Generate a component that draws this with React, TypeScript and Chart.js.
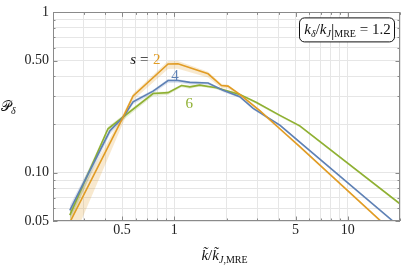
import { useEffect, useRef } from 'react';
import { Chart, registerables } from 'chart.js';
Chart.register(...registerables);

// ---- axes ----
const xTickValues = [0.2, 0.3, 0.4, 0.5, 0.6, 0.7, 0.8, 0.9, 1, 2, 3, 4, 5, 6, 7, 8, 9, 10, 20];
const xLabelValues = [0.5, 1, 5, 10];
const xLabelTexts = ['0.5', '1', '5', '10'];
const yTickValues = [0.05, 0.06, 0.07, 0.08, 0.09, 0.1, 0.2, 0.3, 0.4, 0.5, 0.6, 0.7, 0.8, 0.9, 1];
const yLabelValues = [0.05, 0.1, 0.5, 1];
const yLabelTexts = ['0.05', '0.10', '0.50', '1'];

// ---- series s = 2 (orange) ----
const s2X = [0.25, 0.507, 0.579, 0.921, 1.05, 1.566, 1.87, 2.04, 2.385, 3.11, 4.06, 5.29, 15.8];
const s2Y = [0.049, 0.222, 0.301, 0.477, 0.478, 0.414, 0.35, 0.347, 0.308, 0.244, 0.188, 0.1456, 0.049];
const s2Err = [0.3, 0.08, 0.06, 0.07, 0.07, 0.05, 0.04, 0.035, 0.03, 0.025, 0.02, 0.02, 0.02];

// ---- series s = 4 (blue) ----
const s4X = [0.25, 0.425, 0.507, 0.579, 0.755, 0.921, 1.05, 1.23, 1.566, 1.91, 2.385, 2.85, 4.06, 5.29, 18.2];
const s4Y = [0.0583, 0.182, 0.222, 0.277, 0.323, 0.376, 0.376, 0.366, 0.363, 0.327, 0.298, 0.252, 0.198, 0.155, 0.05];
const s4Err = [0.12, 0.05, 0.04, 0.035, 0.035, 0.035, 0.03, 0.03, 0.025, 0.025, 0.02, 0.02, 0.02, 0.02, 0.02];

// ---- series s = 6 (green) ----
const s6X = [0.25, 0.415, 0.755, 0.921, 1.1, 1.23, 1.4, 1.75, 2.385, 2.98, 4.06, 5.29, 20];
const s6Y = [0.0544, 0.188, 0.312, 0.316, 0.35, 0.343, 0.352, 0.339, 0.308, 0.274, 0.228, 0.196, 0.064];
const s6Err = [0.12, 0.05, 0.035, 0.03, 0.025, 0.025, 0.02, 0.02, 0.02, 0.02, 0.02, 0.02, 0.02];

const ORANGE = '#E19C24';
const BLUE = '#5E81B5';
const GREEN = '#8FB032';
const SERIF = '"Liberation Serif", "DejaVu Serif", serif';

const pts = (xs: number[], ys: number[]) => xs.map((x, i) => ({ x, y: ys[i] }));
const bandPts = (xs: number[], ys: number[], es: number[], up: boolean) =>
  xs.map((x, i) => ({ x, y: up ? ys[i] * (1 + es[i] * 0.6) : ys[i] * (1 - es[i]) }));

type Seg = { t: string; f: string; dy?: number; c?: string };
function drawRich(ctx: CanvasRenderingContext2D, segs: Seg[], x: number, y: number, align: 'left' | 'center' | 'right') {
  let w = 0;
  for (const s of segs) { ctx.font = s.f; w += ctx.measureText(s.t).width; }
  let cx = align === 'left' ? x : align === 'center' ? x - w / 2 : x - w;
  ctx.textAlign = 'left';
  ctx.textBaseline = 'alphabetic';
  for (const s of segs) {
    ctx.font = s.f;
    ctx.fillStyle = s.c || '#111';
    ctx.fillText(s.t, cx, y + (s.dy || 0));
    cx += ctx.measureText(s.t).width;
  }
}

const decorPlugin = {
  id: 'decor',
  afterDatasetsDraw(chart: any) {
    const { ctx, chartArea: a, scales } = chart;
    const xs = scales.x, ys = scales.y;
    ctx.save();
    // frame
    ctx.strokeStyle = '#8a8a8a';
    ctx.lineWidth = 1;
    ctx.strokeRect(Math.round(a.left) + 0.5, Math.round(a.top) + 0.5, Math.round(a.right - a.left) - 1, Math.round(a.bottom - a.top) - 1);
    // inner ticks
    ctx.beginPath();
    for (const v of xTickValues) {
      const px = Math.round(xs.getPixelForValue(v)) + 0.5;
      const len = xLabelValues.includes(v) ? 4.5 : 2.5;
      ctx.moveTo(px, a.bottom); ctx.lineTo(px, a.bottom - len);
      ctx.moveTo(px, a.top); ctx.lineTo(px, a.top + len);
    }
    for (const v of yTickValues) {
      const py = Math.round(ys.getPixelForValue(v)) + 0.5;
      const len = yLabelValues.includes(v) ? 4.5 : 2.5;
      ctx.moveTo(a.left, py); ctx.lineTo(a.left + len, py);
      ctx.moveTo(a.right, py); ctx.lineTo(a.right - len, py);
    }
    ctx.stroke();

    // series labels
    const sx = xs.getPixelForValue(0.745), sy = ys.getPixelForValue(0.477);
    drawRich(ctx, [{ t: 's', f: `italic 15px ${SERIF}` }, { t: ' = ', f: `15px ${SERIF}` }], sx, sy, 'right');
    drawRich(ctx, [{ t: '2', f: `15px ${SERIF}`, c: ORANGE }], sx + 1, sy, 'left');
    drawRich(ctx, [{ t: '4', f: `15px ${SERIF}`, c: BLUE }], xs.getPixelForValue(1.01), ys.getPixelForValue(0.378), 'center');
    drawRich(ctx, [{ t: '6', f: `15px ${SERIF}`, c: GREEN }], xs.getPixelForValue(1.22), ys.getPixelForValue(0.252), 'center');

    // legend box
    const bx1 = a.right - 101, by1 = a.top + 5, bw = 95, bh = 24;
    ctx.beginPath();
    (ctx as any).roundRect(bx1 + 0.5, by1 + 0.5, bw, bh, 5);
    ctx.fillStyle = '#fff';
    ctx.fill();
    ctx.strokeStyle = '#111';
    ctx.lineWidth = 1;
    ctx.stroke();
    drawRich(ctx, [
      { t: 'k', f: `italic 15px ${SERIF}` },
      { t: 'δ', f: `italic 10px ${SERIF}`, dy: 3 },
      { t: '/', f: `15px ${SERIF}` },
      { t: 'k', f: `italic 15px ${SERIF}` },
      { t: 'J', f: `italic 10px ${SERIF}`, dy: 3 },
      { t: '|', f: `17px ${SERIF}`, dy: 2 },
      { t: 'MRE', f: `10px ${SERIF}`, dy: 3 },
      { t: ' = 1.2', f: `15px ${SERIF}` },
    ], bx1 + bw / 2 + 1, by1 + 16.5, 'center');

    // axis titles
    drawRich(ctx, [
      { t: 'k\u0303', f: `italic 15px ${SERIF}` },
      { t: '/', f: `15px ${SERIF}` },
      { t: 'k\u0303', f: `italic 15px ${SERIF}` },
      { t: 'J', f: `italic 10px ${SERIF}`, dy: 3 },
      { t: ',MRE', f: `10px ${SERIF}`, dy: 3 },
    ], (a.left + a.right) / 2 - 2, 260, 'center');
    drawRich(ctx, [
      { t: '𝒫', f: `14px ${SERIF}` },
      { t: 'δ', f: `italic 10px ${SERIF}`, dy: 3 },
    ], 1, 111, 'left');
    ctx.restore();
  },
};

export default function App() {
  const ref = useRef<HTMLCanvasElement>(null);
  useEffect(() => {
    document.body.style.margin = '0';
    const lineDs = (label: string, xs: number[], ys: number[], color: string) => ({
      label, data: pts(xs, ys), borderColor: color, borderWidth: 1.6, pointRadius: 0,
      fill: false, tension: 0, order: 0,
    });
    const bandDs = (xs: number[], ys: number[], es: number[], color: string) => [
      { label: 'bu', data: bandPts(xs, ys, es, true), borderWidth: 0, pointRadius: 0, backgroundColor: color, fill: '+1', tension: 0, order: 1 },
      { label: 'bl', data: bandPts(xs, ys, es, false), borderWidth: 0, pointRadius: 0, backgroundColor: color, fill: false, tension: 0, order: 1 },
    ];
    const chart = new Chart(ref.current!, {
      type: 'line',
      data: {
        datasets: [
          lineDs('s=2', s2X, s2Y, ORANGE),
          lineDs('s=4', s4X, s4Y, BLUE),
          lineDs('s=6', s6X, s6Y, GREEN),
          ...bandDs(s2X, s2Y, s2Err, 'rgba(225,156,36,0.22)'),
          ...bandDs(s4X, s4Y, s4Err, 'rgba(94,129,181,0.22)'),
          ...bandDs(s6X, s6Y, s6Err, 'rgba(143,176,50,0.22)'),
        ] as any,
      },
      options: {
        animation: false,
        responsive: true,
        maintainAspectRatio: false,
        layout: { padding: { top: 8, right: 3, left: 0, bottom: 0 } },
        plugins: { legend: { display: false }, tooltip: { enabled: false } },
        scales: {
          x: {
            type: 'logarithmic', min: 0.2, max: 20,
            afterBuildTicks: (s: any) => { s.ticks = xTickValues.map((v) => ({ value: v })); },
            afterFit: (s: any) => { s.height = 48; },
            ticks: {
              autoSkip: false, maxRotation: 0, padding: 1,
              color: '#222', font: { family: SERIF, size: 14 },
              callback: (v: any) => { const i = xLabelValues.findIndex((u) => Math.abs(u - v) < 1e-9); return i >= 0 ? xLabelTexts[i] : ''; },
            },
            grid: { color: '#e6e6e6', drawTicks: false },
            border: { display: false },
          },
          y: {
            type: 'logarithmic', min: 0.05, max: 1,
            afterBuildTicks: (s: any) => { s.ticks = yTickValues.map((v) => ({ value: v })); },
            afterFit: (s: any) => { s.width = 53; },
            ticks: {
              autoSkip: false, padding: 4,
              color: '#222', font: { family: SERIF, size: 14 },
              callback: (v: any) => { const i = yLabelValues.findIndex((u) => Math.abs(u - v) < 1e-9); return i >= 0 ? yLabelTexts[i] : ''; },
            },
            grid: { color: '#e6e6e6', drawTicks: false },
            border: { display: false },
          },
        },
      },
      plugins: [decorPlugin],
    });
    return () => chart.destroy();
  }, []);
  return (
    <div style={{ width: 403, height: 269, position: 'relative' }}>
      <canvas ref={ref} />
    </div>
  );
}
